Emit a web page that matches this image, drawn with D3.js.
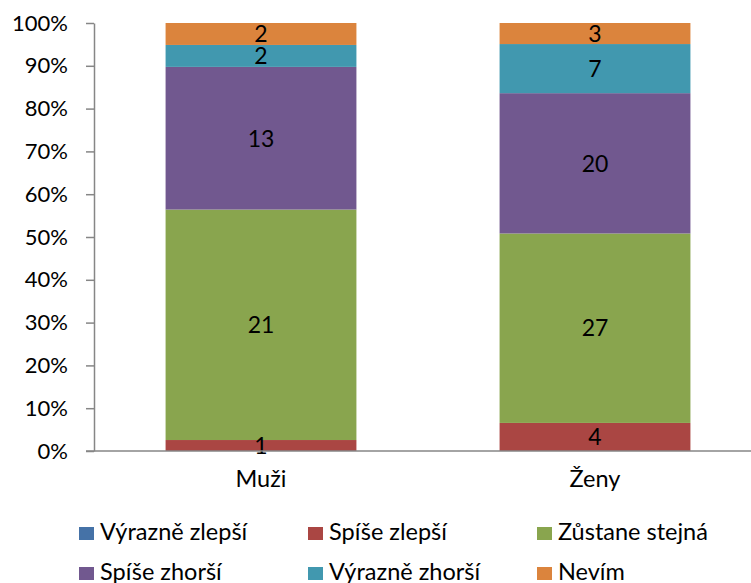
<!DOCTYPE html>
<html>
<head>
<meta charset="utf-8">
<style>
  body { margin: 0; background: #fff; }
  svg { font-family: Lato, "Open Sans", sans-serif; }
</style>
</head>
<body>
<svg width="751" height="583"></svg>
<script src="https://d3js.org/d3.v7.min.js"></script>
<script>

var categories = ["Muži", "Ženy"];
var seriesNames = ["Výrazně zlepší", "Spíše zlepší", "Zůstane stejná", "Spíše zhorší", "Výrazně zhorší", "Nevím"];
var seriesColors = ["#4572A7", "#AA4643", "#89A54E", "#71588F", "#4198AF", "#DB843D"];
// counts per series, in category order
var vyrazneZlepsi = [0, 0];
var spiseZlepsi = [1, 4];
var zustaneStejna = [21, 27];
var spiseZhorsi = [13, 20];
var vyrazneZhorsi = [2, 7];
var nevim = [2, 3];
var yTicks = [0, 0.1, 0.2, 0.3, 0.4, 0.5, 0.6, 0.7, 0.8, 0.9, 1];

var seriesValues = [vyrazneZlepsi, spiseZlepsi, zustaneStejna, spiseZhorsi, vyrazneZhorsi, nevim];

var svg = d3.select("svg");

// build rows for the stack
var rows = categories.map(function(c, i) {
  var r = { cat: c };
  var total = 0;
  seriesNames.forEach(function(s, j) { total += seriesValues[j][i]; });
  seriesNames.forEach(function(s, j) { r[s] = seriesValues[j][i] / total; r["n_" + s] = seriesValues[j][i]; });
  return r;
});

var stack = d3.stack().keys(seriesNames);
var layers = stack(rows);

var x = d3.scaleBand()
    .domain(categories)
    .range([94, 762])
    .paddingInner(0.4286)
    .paddingOuter(0.2143);

var y = d3.scaleLinear()
    .domain([0, 1])
    .range([451, 23]);

// y axis
var yAxis = svg.append("g")
    .attr("transform", "translate(94,0)")
    .call(d3.axisLeft(y).tickValues(yTicks).tickFormat(d3.format(".0%")).tickSize(8).tickSizeOuter(0));
yAxis.select(".domain").attr("stroke", "#868686").attr("stroke-width", 1.5);
yAxis.selectAll(".tick line").attr("stroke", "#868686").attr("stroke-width", 1.5);
yAxis.selectAll(".tick text")
    .attr("x", -26)
    .attr("fill", "#000")
    .style("font-size", "22px")
    .style("font-family", "Lato");

var g = svg.append("g");

g.selectAll("g.layer")
  .data(layers)
  .enter().append("g")
    .attr("class", "layer")
    .attr("fill", function(d, i) { return seriesColors[i]; })
  .selectAll("rect")
  .data(function(d) { return d; })
  .enter().append("rect")
    .attr("x", function(d) { return x(d.data.cat); })
    .attr("width", x.bandwidth())
    .attr("y", function(d) { return y(d[1]); })
    .attr("height", function(d) { return y(d[0]) - y(d[1]); });

// data labels
layers.forEach(function(layer) {
  layer.forEach(function(d) {
    var n = d.data["n_" + layer.key];
    if (n === 0) return;
    svg.append("text")
      .attr("x", x(d.data.cat) + x.bandwidth() / 2)
      .attr("y", (y(d[0]) + y(d[1])) / 2)
      .attr("dy", "0.36em")
      .attr("text-anchor", "middle")
      .style("font-size", "23px")
      .text(n);
  });
});

// x axis
var xAxis = svg.append("g")
    .attr("transform", "translate(0,451)")
    .call(d3.axisBottom(x).tickSize(0).tickSizeOuter(0));
xAxis.select(".domain").attr("stroke", "#868686").attr("stroke-width", 1.5).attr("d", "M86,0H762");
xAxis.selectAll(".tick text")
    .attr("y", 36)
    .attr("dy", "0")
    .attr("fill", "#000")
    .style("font-size", "23.5px")
    .style("font-family", "Lato");

// legend
var legendX = [79, 308, 537];
var legendY = [532, 572];
var legend = svg.append("g");
seriesNames.forEach(function(s, i) {
  var lx = legendX[i % 3], ly = legendY[Math.floor(i / 3)];
  legend.append("rect")
    .attr("x", lx)
    .attr("y", ly - 5)
    .attr("width", 15)
    .attr("height", 13)
    .attr("fill", seriesColors[i]);
  legend.append("text")
    .attr("x", lx + 21)
    .attr("y", ly + 8)
    .style("font-size", "23.5px")
    .text(s);
});

</script>
</body>
</html>
